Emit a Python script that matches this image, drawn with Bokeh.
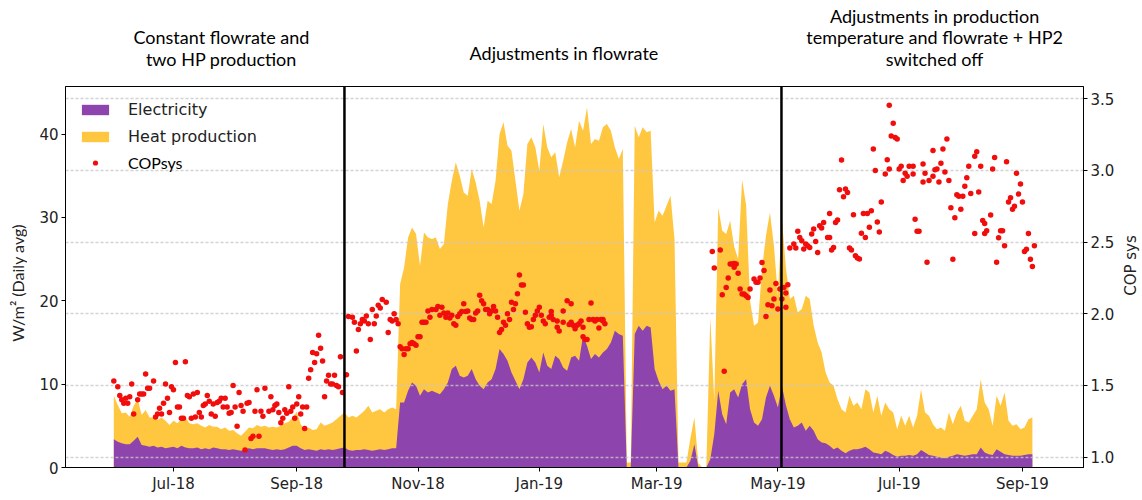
import math
import datetime as dt
from bokeh.plotting import figure
from bokeh.layouts import column, row
from bokeh.models import (Range1d, LinearAxis, Span, Legend, LegendItem,
                          DatetimeTickFormatter, MonthsTicker, Grid, FixedTicker,
                          PrintfTickFormatter)
from bokeh.core.properties import value
from bokeh.embed import file_html
from bokeh.resources import INLINE

# ---------------- data ----------------
start = dt.datetime(2018, 6, 1)
step_days = 2  # one sample every second day

heat = [8.6, 7.5, 6.5, 6.6, 6.1, 7.4, 8.2, 6.3, 6.9, 6.0, 6.0, 5.7, 6.0, 5.6, 5.1, 5.6, 5.3, 5.8, 6.0, 5.3,
        5.2, 5.3, 5.0, 4.8, 5.1, 4.9, 4.9, 4.6, 4.8, 4.4, 4.5, 4.1, 3.8, 4.3, 4.8, 4.7, 5.1, 4.9, 5.0,
        4.8, 4.9, 4.8, 5.0, 5.3, 5.5, 6.0, 6.7, 5.2, 4.5, 4.8, 4.5, 4.6, 5.4, 5.0, 5.2, 5.4, 5.8, 6.2, 6.6,
        6.0, 6.2, 6.0, 6.4, 6.8, 7.4, 6.6, 6.8, 7.0, 6.6, 7.0, 7.2, 7.0,
        22, 24, 27.6, 28.8, 28, 24.2, 28.2, 27.6, 27.4, 27.6, 26.2, 26.8, 31.6, 34.4, 36.6, 35, 33, 32.6,
        35.8, 34.2, 32, 28.8, 32, 31.6, 34.4, 40, 41.4, 38.6, 38, 34.4, 30.8, 32.8, 38.8, 39.6, 38.4, 35.6,
        41.2, 38.4, 37.2, 37.8, 34.8, 36.8, 39, 40.6, 38.4, 41.6, 40.4, 43.2, 38.8, 39.4, 39.2, 40.8, 41.2,
        40.4, 38.4, 37, 38.2,
        0.6, 0.6,
        41, 39.6, 40.8, 40.2, 40.4, 29.4, 30.8, 30.2, 31.4, 32.6, 27.4,
        0.6, 0.6, 0.6, 3.5, 6.0, 0.5, 0, 0,
        18, 8, 31.2, 28.4, 28, 29.6,
        26.5, 25, 34.5, 31.5, 20, 17,
        17.4, 23.8, 27.8, 30.6, 26.6, 20.6, 30, 24, 20.2, 20.6, 18.6, 19, 20.6, 20.2, 17, 15, 13.8, 11.4,
        10.2, 9.8, 8.2, 7, 6.6, 8.6, 7.4, 7.8, 7, 9.4, 9, 6.6, 8.6, 6.2, 7.8, 7.0,
        6.6, 4.6, 6.2, 5, 6.2, 4.8, 6.2, 9.4, 6.6, 6.2, 5.2, 4.6, 4.8, 4.4, 6.6, 5.2, 6.6, 7.4, 5.6, 5.4,
        6.2, 7, 10.6, 7.8, 7, 5, 8.6, 7.4, 9, 5.6, 5, 5.2, 4.6, 4.8, 5.8, 6]

electricity = [3.4, 3.1, 2.9, 2.8, 2.8, 3.2, 3.7, 2.7, 2.6, 2.5, 2.6, 2.4, 2.5, 2.3, 2.4, 2.5, 2.3, 2.6, 2.4,
               2.3, 2.3, 2.4, 2.2, 2.3, 2.2, 2.4, 2.3, 2.2, 2.2, 2.1, 2.2, 2.1, 2.0, 2.2, 2.3, 2.2, 2.3, 2.3, 2.3,
               2.2, 2.1, 2.2, 2.1, 2.2, 2.4, 2.6, 2.6, 2.3, 2.1, 2.2, 2.1, 2.0, 2.2, 2.1, 2.2, 2.1, 2.2, 2.3,
               2.4, 2.1, 2.0, 2.1, 2.1, 2.2, 2.1, 2.0, 2.1, 2.2, 2.1, 2.2, 2.3, 2.3,
               7.8, 7.8, 9.2, 10.2, 9.8,
               8.6, 9.4, 9, 9.2, 9, 8.8, 9.4, 10.2, 11.8, 12.2, 11, 10.8, 11, 11.8, 10.6, 9.8, 9.4, 10.2, 10.6,
               11.8, 14.2, 13.6, 12.8, 11.4, 10.4, 9.4, 10.6, 12.6, 13.2, 12.6, 11.4, 13.8, 12.2, 11.8, 13.4,
               13, 12, 11.6, 13.2, 13.4, 12.8, 15.8, 14.6, 13, 13.6, 13.2, 13.8, 14.2, 15, 16.4, 16, 15.8,
               0, 0,
               16, 17, 16.4, 17, 16.8, 11.8, 10.4, 9.4, 9.8, 9.2, 9.4,
               0, 0, 0, 0.8, 2.8, 0, 0, 0,
               1, 4, 9.2, 6.4, 5.2, 9,
               9.4, 8.4, 10, 10.6, 7, 5.4,
               5, 5.8, 8.4, 9.8, 8.6, 7.2, 9.8, 7.5, 5.8, 4.8, 5, 5.4, 4.4, 5, 4.4, 3.4, 3, 2.9, 2.6, 2.2,
               2.4, 2.0, 1.7, 2.0, 2.2, 2.2, 2.3, 2.5, 2.2, 1.8, 1.7, 1.6, 2.0, 1.8,
               1.5, 1.3, 1.4, 1.4, 1.5, 1.4, 1.6, 2.1, 1.8, 1.5, 1.4, 1.3, 1.2, 1.1, 1.3, 1.4, 1.6, 1.5, 1.4,
               1.5, 1.6, 1.6, 2.4, 1.8, 1.6, 1.5, 2.2, 1.9, 1.6, 1.5, 1.4, 1.4, 1.4, 1.5, 1.6, 1.6]

# COPsys dots: day offset from 1 June 2018, value
cop_day = [0, 2, 3, 4, 5, 6, 7, 8, 9, 10, 12, 13, 14, 15, 16, 17, 18, 20, 21, 22, 23, 24, 25, 26, 27, 28,
           29, 30, 31, 32, 33, 34, 35, 36, 37, 38, 39, 40, 41, 42, 43, 44, 45, 46, 47, 48, 49, 50, 51, 52,
           53, 54, 55, 56, 57, 58, 59, 60, 61, 62, 63, 64, 65, 66, 67, 68, 69, 70, 71, 72, 73, 74, 75, 76,
           78, 79, 80, 81, 82, 83, 84, 85, 86, 87, 88, 89, 90, 91, 92, 93, 94, 95, 96, 97, 98, 99, 100,
           101, 102, 103, 104, 105, 106, 107, 108, 109, 110, 111, 112, 113, 114, 115, 117, 118, 120, 121,
           122, 123, 124, 125, 126, 127, 128, 129, 130, 131, 132, 133, 134, 135, 137, 138, 139, 140, 141,
           142, 143,
           144, 145, 146, 147, 148, 149, 150, 151, 152, 153, 154, 155, 156, 157, 158, 159, 160, 162, 163,
           164, 165, 166, 167, 168, 169, 170, 171, 172, 173, 174, 175, 176, 177, 178, 179, 180, 181, 182,
           183, 184, 185, 186, 187, 188, 189, 190, 191, 192, 193, 194, 195, 196, 197, 198, 199, 200, 201,
           202, 203, 204, 205, 206, 207, 208, 209, 210, 211, 212, 213, 214, 215, 216, 217, 219, 220, 220,
           221, 223, 223, 224, 226, 226, 228, 229, 230, 230, 231, 232, 233, 234, 235, 236, 236, 237, 238,
           239, 240, 241, 242, 243, 244, 245, 246, 246, 247,
           301, 302, 305, 306, 307, 308, 309, 310, 311, 312, 312, 313, 314, 315, 316, 317, 318, 319, 320,
           322, 323, 324, 325, 326, 327, 328, 329, 330, 331, 332, 333, 334, 335, 336, 337, 338, 338, 339,
           340, 342, 343, 344, 345, 346, 347, 348, 349, 350, 351, 352, 353, 354, 355, 356, 357, 359, 360,
           360, 361, 362, 363, 364, 365, 366, 367, 368, 369, 370, 371, 372, 373, 374, 375, 376, 377, 378,
           379, 380, 381, 382, 383, 384, 385, 386, 388, 389, 390, 390,
           391, 392, 393, 394, 395, 396, 397, 398, 399, 400, 402, 402, 403, 404, 405, 407, 407, 408, 409,
           410, 412, 412, 413, 414, 415, 416, 417, 418, 419, 420, 421, 422, 423, 424, 425, 426, 427, 428,
           429, 430, 431, 433, 433, 434, 435, 436, 437, 438, 438, 439, 441, 442, 443, 444, 445, 446, 447,
           448, 449, 450, 451, 452, 453, 454, 455, 456, 457, 458, 459, 460, 461, 462, 463]
cop_val = [1.53, 1.49, 1.43, 1.40, 1.375, 1.41, 1.375, 1.42, 1.51, 1.30, 1.40, 1.44, 1.44, 1.44, 1.58, 1.48,
           1.48, 1.53, 1.28, 1.30, 1.34, 1.30, 1.375, 1.51, 1.41, 1.31, 1.49, 1.47, 1.66, 1.35, 1.35, 1.27,
           1.27, 1.665, 1.43, 1.42, 1.27, 1.44, 1.28, 1.45, 1.31, 1.28, 1.36, 1.37, 1.43, 1.39, 1.30, 1.37,
           1.285, 1.38, 1.39, 1.41, 1.35, 1.41, 1.35, 1.305, 1.31, 1.50, 1.35, 1.215, 1.45, 1.36, 1.32,
           1.05, 1.375, 1.38, 1.13, 1.145, 1.32, 1.47, 1.145, 1.32, 1.285, 1.48,
           1.32, 1.42, 1.33, 1.36, 1.37, 1.31, 1.24, 1.27, 1.33, 1.305, 1.49, 1.32, 1.35, 1.27, 1.37, 1.42,
           1.30, 1.35, 1.20, 1.35, 1.55, 1.61, 1.73, 1.66, 1.72, 1.85, 1.76, 1.67, 1.42, 1.53, 1.57, 1.51,
           1.51, 1.57, 1.50, 1.49, 1.70, 1.45, 1.575, 1.98, 1.975, 1.94, 1.74, 1.89, 1.93, 1.96, 1.95,
           1.985, 1.93, 1.82, 2.03, 1.93, 1.985, 2.06, 2.04, 2.10, 2.08, 1.87, 1.96, 1.95, 2.00, 1.96, 1.93,
           1.77, 1.755, 1.715, 1.755, 1.755, 1.79, 1.80, 1.79, 1.78, 1.84, 1.84, 1.94, 1.94, 1.94, 2.02,
           1.975, 2.03, 2.03, 2.05, 1.99, 2.045, 2.005, 1.975, 2.005, 1.97, 1.99, 1.93, 1.92, 1.98, 2.00,
           2.015, 2.07, 2.015, 2.02, 1.97, 1.96, 1.96, 2.005, 2.02, 2.13, 2.09, 2.07, 2.03, 2.03, 2.00,
           2.02, 2.05, 2.02, 1.975, 1.87, 1.89, 1.94, 1.92, 2.00, 1.96, 2.08, 2.03, 2.07, 2.14, 2.27, 2.20,
           2.20, 2.01, 1.93, 1.905, 1.91, 1.96, 1.99, 2.02, 2.045, 1.99, 1.95, 1.93, 1.975, 1.99, 2.015,
           1.96, 1.95, 1.905, 1.88, 2.02, 1.94, 2.09, 1.925, 1.94, 2.07, 1.92, 1.895, 1.92, 1.93, 1.95,
           1.84, 1.905, 1.82, 1.82, 1.96, 2.075, 1.96, 1.95, 1.96, 1.90, 1.96, 1.95, 1.96, 1.93,
           2.435, 2.319, 2.445, 2.133, 1.598, 2.184, 2.25, 2.347, 2.347, 2.324, 2.351, 2.347, 2.282, 2.173,
           2.138, 2.138, 2.126, 2.114, 2.173, 2.243, 2.219, 2.219, 2.25, 2.358, 2.301, 1.98, 2.063, 2.166,
           2.056, 2.103, 2.212, 2.033, 2.173, 2.103, 2.184, 2.145, 2.045, 2.203, 2.459, 2.487, 2.459,
           2.575, 2.533, 2.51, 2.452, 2.487, 2.475, 2.463, 2.556, 2.591, 2.505, 2.428, 2.614, 2.598, 2.637,
           2.533, 2.533, 2.70, 2.445, 2.463, 2.637, 2.654, 2.865, 3.073, 2.817, 2.87, 2.847, 2.459, 2.445,
           2.691, 2.405, 2.389, 2.382, 2.562, 2.70, 2.533, 2.70, 2.603, 2.719, 3.15, 3.0, 2.64, 2.57, 2.78,
           2.975, 3.075, 3.01, 3.456,
           3.24, 3.33, 3.23, 3.22, 3.01, 3.03, 2.93, 2.98, 2.96, 3.03, 3.03, 2.975, 2.66, 2.575, 2.575,
           2.92, 3.045, 2.98, 2.36, 2.93, 3.14, 2.96, 3.005, 3.01, 2.92, 3.05, 3.15, 2.99, 3.22, 2.93, 2.74,
           2.38, 2.67, 2.83, 2.82, 2.73, 2.82, 2.89, 2.95, 3.03, 2.84, 2.56, 3.10, 3.13, 2.85, 3.03, 2.65,
           2.63, 2.56, 2.58, 2.69, 3.01, 3.09, 2.36, 2.53, 2.58, 2.58, 2.475, 3.06, 2.78, 2.81, 2.73, 2.75,
           2.98, 2.835, 2.905, 2.78, 2.435, 2.45, 2.56, 2.38, 2.33, 2.475]

phase_changes = [dt.datetime(2018, 9, 25), dt.datetime(2019, 5, 2, 19)]
phase_texts = ["Constant flowrate and\ntwo HP production",
               "Adjustments in flowrate",
               "Adjustments in production\ntemperature and flowrate + HP2\nswitched off"]
phase_text_days = [54.1, 226.4, 412.8]

month_ticks = [0, 2, 4, 6, 8, 10]
left_ticks = [0, 10, 20, 30, 40]
right_ticks = [1.0, 1.5, 2.0, 2.5, 3.0, 3.5]

PURPLE = "#8E44AD"
YELLOW = "#FFC640"
RED = "#F20D0D"
TICK_FONT = "DejaVu Sans"
NOTE_FONT = "Lato"

# ---------------- layout constants (pixels) ----------------
W = 1142
TOP_H = 85
MAIN_H = 415
SIDE_W = 25      # strip right of the plot (COP axis title)
LSIDE_W = 27     # strip left of the plot (W/m2 axis title)
BL, BR = 65, 59

dates = [start + dt.timedelta(days=step_days * i) for i in range(len(heat))]
cop_dates = [start + dt.timedelta(days=d) for d in cop_day]
xr = Range1d(start - dt.timedelta(days=24.3), start + dt.timedelta(days=487.7))

# ---------------- main plot ----------------
p = figure(width=W - SIDE_W - LSIDE_W, height=MAIN_H, x_axis_type="datetime", x_range=xr,
           y_range=Range1d(0, 45.7), output_backend="svg", toolbar_location=None,
           min_border_left=BL - LSIDE_W, min_border_right=BR - SIDE_W, min_border_top=1,
           min_border_bottom=33)
p.extra_y_ranges = {"cop": Range1d(0.927, 3.586)}

p.xgrid.visible = False
p.ygrid.visible = False
p.outline_line_color = "black"
p.outline_line_width = 1

r_heat = p.varea(x=dates, y1=0, y2=heat, fill_color=YELLOW)
r_elec = p.varea(x=dates, y1=0, y2=electricity, fill_color=PURPLE)

grid = Grid(dimension=1, ticker=FixedTicker(ticks=right_ticks), y_range_name="cop",
            grid_line_color="#c8c8c8", grid_line_dash="3 2", grid_line_width=1.5,
            grid_line_alpha=0.8, level="glyph")
p.renderers.append(grid)

p.scatter(x=cop_dates, y=cop_val, y_range_name="cop", size=5.5, color=RED, line_color=None)
# legend-only marker (drawn below the visible range)
r_dummy = p.scatter(x=[start], y=[-10.0], y_range_name="cop", size=10, color=RED, line_color=None)

for d in phase_changes:
    p.add_layout(Span(location=d, dimension="height", line_color="black", line_width=2.5))

xa = p.xaxis[0]
xa.ticker = MonthsTicker(months=month_ticks)
xa.formatter = DatetimeTickFormatter(days="%b-%y", months="%b-%y", years="%b-%y")
ya = p.yaxis[0]
ya.ticker = FixedTicker(ticks=left_ticks)

ra = LinearAxis(y_range_name="cop", ticker=FixedTicker(ticks=right_ticks),
                formatter=PrintfTickFormatter(format="%.1f"))
p.add_layout(ra, "right")

for ax in (xa, ya, ra):
    ax.major_label_text_font = TICK_FONT
    ax.major_label_text_font_size = "15px"
    ax.major_label_text_color = "#222222"
    ax.major_tick_out = 4
    ax.major_tick_in = 0
    ax.minor_tick_out = 0
    ax.minor_tick_in = 0
    ax.major_label_standoff = 3
    ax.axis_line_color = "black"
    ax.major_tick_line_color = "black"

legend1 = Legend(items=[LegendItem(label="Electricity", renderers=[r_elec]),
                        LegendItem(label="Heat production", renderers=[r_heat])],
                 location=(5, 313), glyph_width=34, glyph_height=13, label_height=20,
                 spacing=7, padding=8, margin=0, label_standoff=16,
                 border_line_alpha=0, background_fill_alpha=0,
                 label_text_font=TICK_FONT, label_text_font_size="16px", label_text_color="#222222")
legend2 = Legend(items=[LegendItem(label="COPsys", renderers=[r_dummy])],
                 location=(5, 287), glyph_width=34, glyph_height=13, label_height=20,
                 spacing=7, padding=8, margin=0, label_standoff=16,
                 border_line_alpha=0, background_fill_alpha=0,
                 label_text_font=NOTE_FONT, label_text_font_size="16px", label_text_color="black")
p.add_layout(legend1)
p.add_layout(legend2)


def title_strip(width, x, y, text, font, size):
    s = figure(width=width, height=MAIN_H, x_range=Range1d(0, width), y_range=Range1d(0, MAIN_H),
               x_axis_location=None, y_axis_location=None, output_backend="svg",
               toolbar_location=None, min_border_left=0, min_border_right=0,
               min_border_top=0, min_border_bottom=0)
    s.outline_line_color = None
    s.xgrid.visible = False
    s.ygrid.visible = False
    s.text(x=[x], y=[y], text=[text], angle=math.pi / 2, text_align="center",
           text_baseline="middle", text_font=value(font), text_font_size=value(size),
           text_color="#222222")
    return s


left = title_strip(LSIDE_W, 17, 201, "W/m² (Daily avg)", NOTE_FONT, "16px")
side = title_strip(SIDE_W, 13, 220, "COP sys", TICK_FONT, "15px")

# ---------------- header strip with the phase descriptions ----------------
top = figure(width=W, height=TOP_H, x_range=xr, y_range=Range1d(0, TOP_H),
             x_axis_location=None, y_axis_location=None, output_backend="svg",
             toolbar_location=None, min_border_left=BL, min_border_right=BR,
             min_border_top=0, min_border_bottom=0)
top.outline_line_color = None
top.xgrid.visible = False
top.ygrid.visible = False
text_levels = [37.5, 33, 48.3]  # pixel rows inside the header strip
top.text(x=[start + dt.timedelta(days=d) for d in phase_text_days], y=text_levels, text=phase_texts,
         text_align="center", text_baseline="middle", text_font=value(NOTE_FONT),
         text_font_size=value("18px"), text_color="black", text_line_height=0.97)

layout = column(top, row(left, p, side, spacing=0), spacing=0)
open("out.html", "w").write(file_html(layout, INLINE))
